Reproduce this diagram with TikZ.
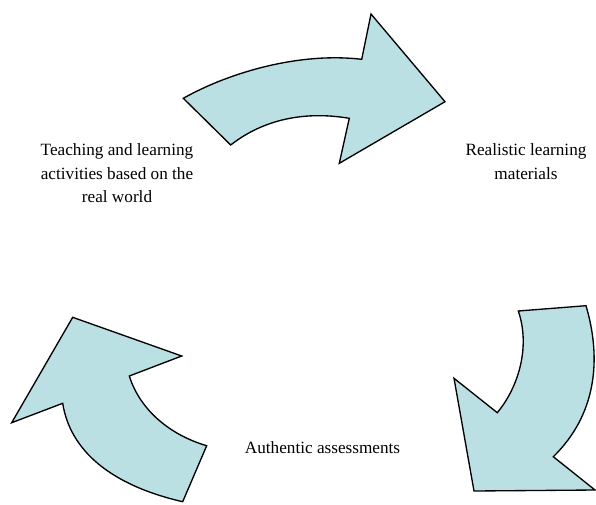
\documentclass[tikz,border=0pt]{standalone}
\usepackage{fontspec}
\setmainfont{Liberation Serif}
\usepackage{tikz}

\begin{document}
\begin{tikzpicture}[x=0.75pt,y=0.75pt,yscale=-1,xscale=1,
  bentarrow/.style={draw={rgb, 255:red, 0; green, 0; blue, 0 },line width=1pt,line join=miter,fill={rgb, 255:red, 187; green, 224; blue, 227 }},
  cycletext/.style={align=center,font=\fontsize{12.9}{17.5}\selectfont}]
\useasboundingbox (0,0) rectangle (596,504);

%Shape: Curved Right Arrow [id:top]
\draw [bentarrow] (183.3,98.3) .. controls (230,72) and (300,52) .. (361.7,59.3) -- (371,14) -- (445,101.7) -- (339.3,163.3) -- (349.3,118.3) .. controls (300,110) and (260,122) .. (230.7,145) -- cycle ;
%Shape: Curved Down Arrow [id:right]
\draw [bentarrow] (518.3,311) -- (586,305.7) .. controls (602,360) and (596,415) .. (553.3,456.7) -- (595,490) -- (474,491) -- (454,378.3) -- (497.3,412.7) .. controls (520,385) and (530,345) .. (518.3,311) -- cycle ;
%Shape: Curved Up Arrow [id:left]
\draw [bentarrow] (72.7,317.3) -- (181.7,356) -- (129.3,376) .. controls (140,410) and (170,435) .. (206.7,445.7) -- (182.7,501.7) .. controls (110,485) and (70,450) .. (62.7,403.3) -- (11.7,422.7) -- cycle ;

% Text Node
\draw (117,173.3) node (teaching) [cycletext] {Teaching and learning\\activities based on the\\real world};
% Text Node
\draw (526,161.7) node (materials) [cycletext] {Realistic learning\\materials};
% Text Node
\draw (322.5,448) node (assessments) [cycletext] {Authentic assessments};

\end{tikzpicture}
\end{document}
